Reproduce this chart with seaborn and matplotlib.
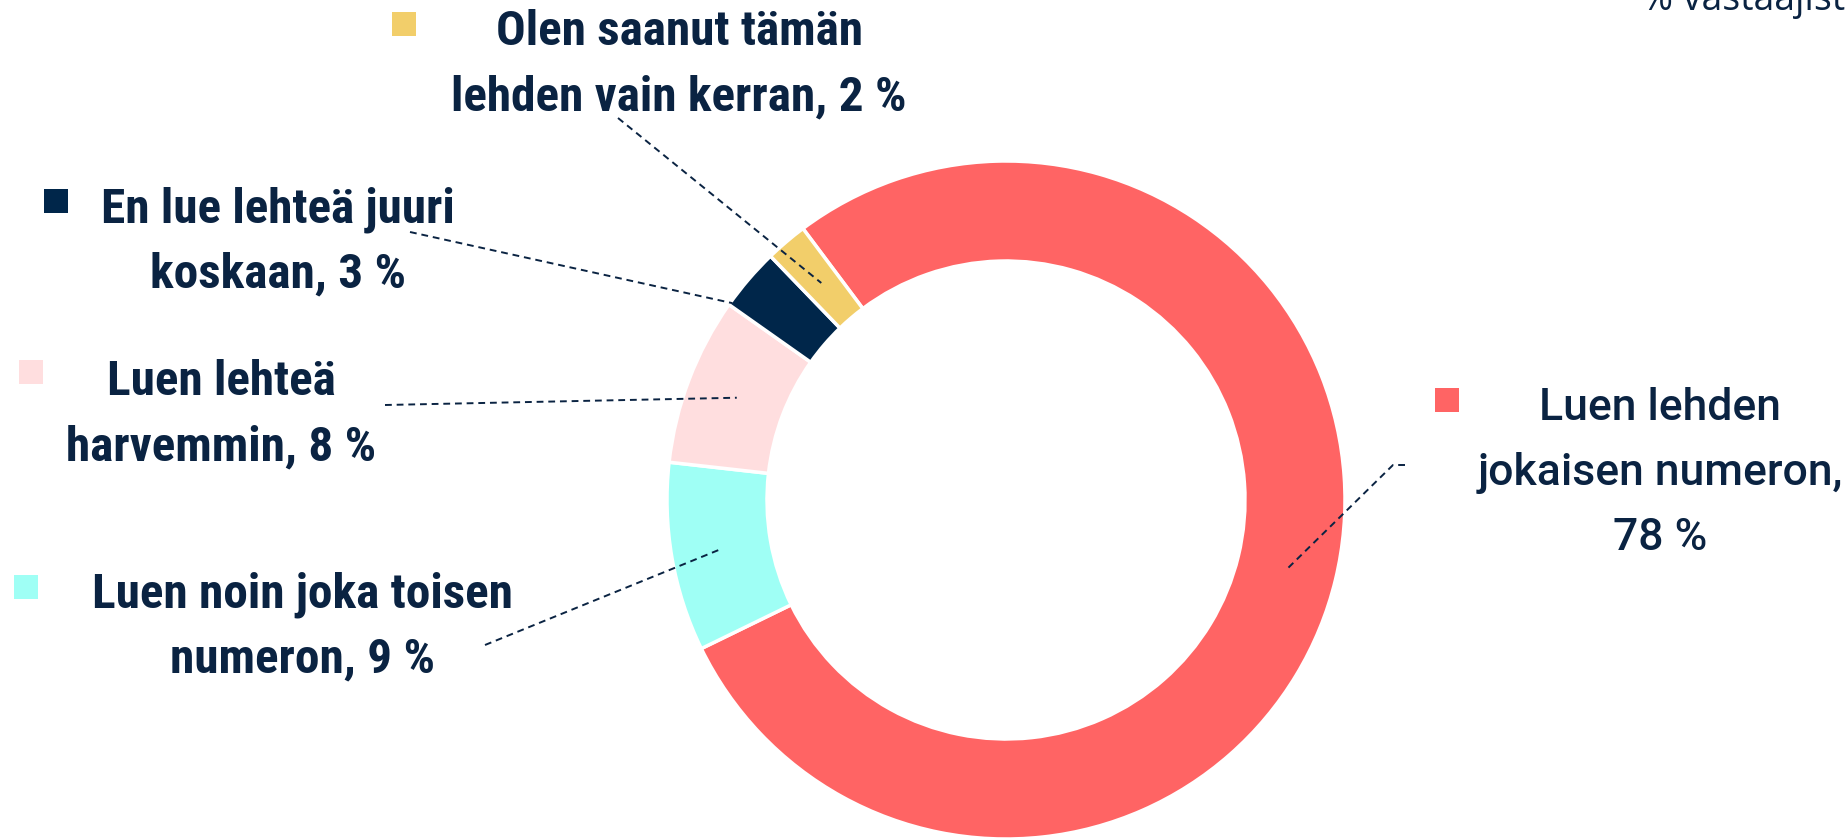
"""Donut chart: how often respondents read the magazine."""

import matplotlib

matplotlib.use("Agg")
import matplotlib.pyplot as plt
import numpy as np
import seaborn as sns

# data
categories = [
    "Luen lehden\njokaisen numeron",
    "Luen noin joka toisen\nnumeron",
    "Luen lehteä\nharvemmin",
    "En lue lehteä juuri\nkoskaan",
    "Olen saanut tämän\nlehden vain kerran",
]
values = [78, 9, 8, 3, 2]
pct_on_own_line = [True, False, False, False, False]
slice_colors = ["#FF6464", "#9FFFF5", "#FFDEDF", "#00264A", "#F2CE6A"]
unit_note = "% vastaajista"

NAVY = "#0A2342"
W, H = 1846, 838


def px(x, y):
    """Pixel position measured from the top-left corner -> data coords."""
    return x, H - y


sns.set_theme(style="white")
fig = plt.figure(figsize=(W / 100, H / 100), dpi=100)
ax = fig.add_axes([0, 0, 1, 1])

palette = sns.color_palette(slice_colors)
center = px(1006, 500)
r_out, ring = 339, 100
wedges, _ = ax.pie(
    values,
    colors=palette,
    startangle=126.8,
    counterclock=False,
    radius=r_out,
    center=center,
    wedgeprops=dict(width=ring, edgecolor="white", linewidth=2.5),
)
ax.set_xlim(0, W)
ax.set_ylim(0, H)
ax.set_aspect("equal")
ax.axis("off")

# label layout: text centre x, first line cap-centre y, marker position,
# leader start points and where on the wedge the leader ends
layout = [
    dict(tx=1660, ty=404, mx=1447, my=400, lead=[(1405, 465), (1393, 465)], f=0.5, r=290,
         family=["Roboto", "DejaVu Sans"], weight="medium", size=32),
    dict(tx=302, ty=591, mx=26, my=587, lead=[(485, 645)], f=0.5, r=290),
    dict(tx=221, ty=379, mx=31, my=372, lead=[(385, 405)], f=0.5, r=288),
    dict(tx=278, ty=206, mx=56, my=201, lead=[(410, 232)], f=0.95, r=337),
    dict(tx=679, ty=29, mx=404, my=24, lead=[(618, 118)], f=0.5, r=285),
]

for cat, val, own, wedge, col, lay in zip(
    categories, values, pct_on_own_line, wedges, palette, layout
):
    text = f"{cat},{chr(10) if own else ' '}{val} %"
    family = lay.get("family", ["Roboto Condensed", "Roboto", "DejaVu Sans"])
    for i, line in enumerate(text.split("\n")):
        ax.text(
            *px(lay["tx"], lay["ty"] + 16 + i * 65),
            line,
            ha="center",
            va="baseline",
            fontsize=lay.get("size", 35.5),
            fontfamily=family,
            fontweight=lay.get("weight", "bold"),
            color=NAVY,
        )
    ax.scatter(*px(lay["mx"], lay["my"]), marker="s", s=320, color=col,
               linewidths=0)

    ang = np.deg2rad(wedge.theta1 + lay["f"] * (wedge.theta2 - wedge.theta1))
    end = (wedge.center[0] + lay["r"] * np.cos(ang),
           wedge.center[1] + lay["r"] * np.sin(ang))
    pts = [px(x, y) for x, y in lay["lead"]] + [end]
    xs, ys = zip(*pts)
    ax.plot(xs, ys, color=NAVY, lw=1.4, linestyle=(0, (3.5, 2.5)))

ax.text(*px(1642, 10), unit_note, ha="left", va="baseline", fontsize=27,
        fontfamily=["Open Sans", "DejaVu Sans"], color=NAVY)

fig.savefig("out.png", dpi=100)
plt.close(fig)
